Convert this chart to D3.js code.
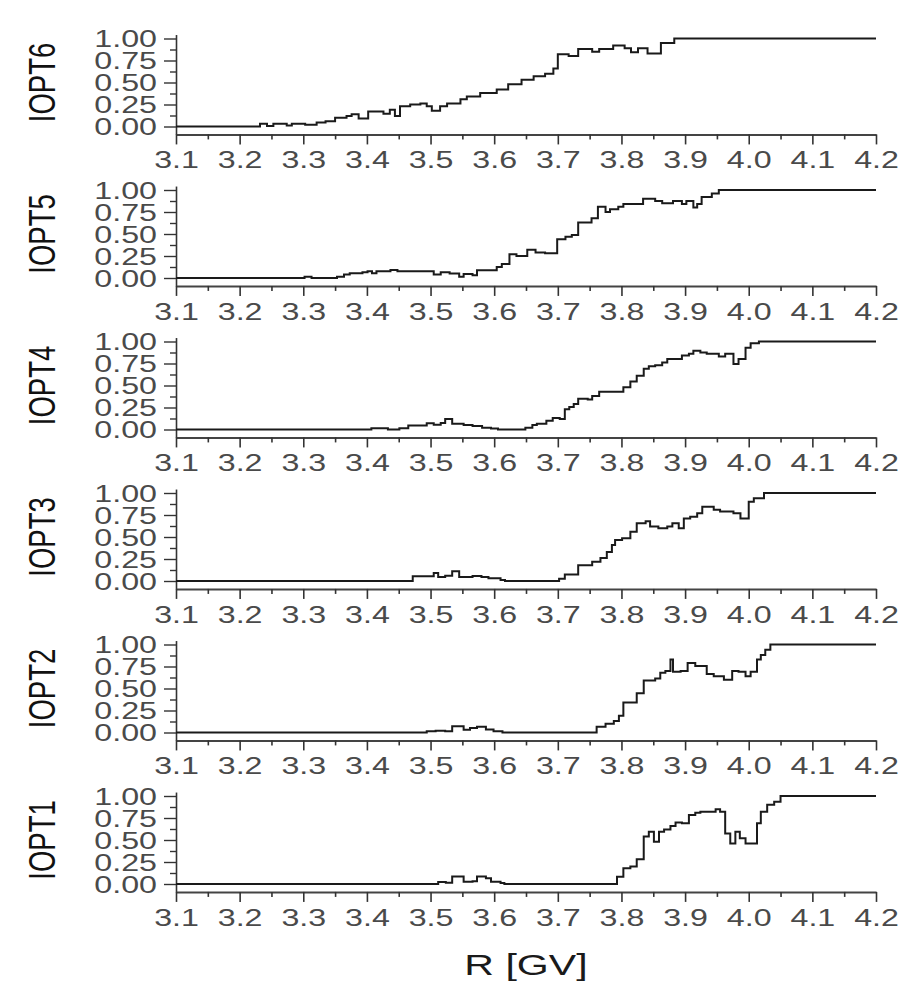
<!DOCTYPE html>
<html>
<head>
<meta charset="utf-8">
<script src="https://cdn.jsdelivr.net/npm/d3@7"></script>
<style>
  html, body { margin: 0; background: #fff; }
  svg { display: block; font-family: "Liberation Sans", Arial, sans-serif; }
</style>
</head>
<body>
<svg id="chart" width="901" height="981"></svg>
<script>
// Panel order, top to bottom
const panelNames = ["IOPT6", "IOPT5", "IOPT4", "IOPT3", "IOPT2", "IOPT1"];

// Axis tick values
const xTicks = [3.1, 3.2, 3.3, 3.4, 3.5, 3.6, 3.7, 3.8, 3.9, 4.0, 4.1, 4.2];
const xMinorTicks = [3.15, 3.25, 3.35, 3.45, 3.55, 3.65, 3.75, 3.85, 3.95, 4.05, 4.15];
const yTicks = [0, 0.25, 0.5, 0.75, 1];
const yMinorTicks = [0.125, 0.375, 0.625, 0.875];

// Step series: rigidity bin edges R [GV] and the fraction from each edge on
const iopt6R = [3.1, 3.232, 3.243, 3.253, 3.274, 3.282, 3.303, 3.321, 3.335, 3.350, 3.368, 3.376, 3.387, 3.402, 3.426, 3.436, 3.444, 3.452, 3.468, 3.484, 3.494, 3.502, 3.515, 3.526, 3.547, 3.557, 3.578, 3.604, 3.622, 3.643, 3.662, 3.680, 3.693, 3.700, 3.717, 3.732, 3.754, 3.765, 3.787, 3.805, 3.815, 3.826, 3.841, 3.862, 3.883, 4.2];
const iopt6F = [0, 0.03, 0.005, 0.03, 0.01, 0.03, 0.02, 0.045, 0.06, 0.10, 0.12, 0.14, 0.09, 0.17, 0.145, 0.19, 0.12, 0.23, 0.25, 0.26, 0.23, 0.18, 0.23, 0.26, 0.31, 0.34, 0.38, 0.42, 0.48, 0.53, 0.57, 0.60, 0.66, 0.82, 0.80, 0.88, 0.85, 0.88, 0.92, 0.89, 0.845, 0.89, 0.83, 0.95, 1.0, 1.0];

const iopt5R = [3.1, 3.302, 3.313, 3.353, 3.364, 3.373, 3.393, 3.401, 3.408, 3.415, 3.437, 3.448, 3.505, 3.516, 3.530, 3.545, 3.552, 3.566, 3.573, 3.604, 3.612, 3.624, 3.635, 3.652, 3.665, 3.680, 3.699, 3.712, 3.722, 3.732, 3.753, 3.763, 3.775, 3.782, 3.795, 3.803, 3.834, 3.853, 3.864, 3.881, 3.895, 3.902, 3.913, 3.919, 3.926, 3.942, 3.953, 4.2];
const iopt5F = [0, 0.015, 0, 0.015, 0.04, 0.055, 0.065, 0.076, 0.055, 0.076, 0.09, 0.076, 0.04, 0.065, 0.05, 0.015, 0.045, 0.03, 0.087, 0.125, 0.16, 0.27, 0.25, 0.32, 0.29, 0.28, 0.44, 0.47, 0.49, 0.63, 0.68, 0.81, 0.75, 0.78, 0.81, 0.84, 0.90, 0.875, 0.85, 0.875, 0.84, 0.875, 0.80, 0.84, 0.92, 0.96, 1.0, 1.0];

const iopt4R = [3.1, 3.407, 3.433, 3.451, 3.465, 3.494, 3.505, 3.516, 3.523, 3.534, 3.552, 3.566, 3.581, 3.595, 3.606, 3.649, 3.660, 3.667, 3.682, 3.692, 3.703, 3.711, 3.718, 3.725, 3.732, 3.747, 3.754, 3.765, 3.803, 3.814, 3.824, 3.835, 3.843, 3.853, 3.864, 3.872, 3.895, 3.906, 3.913, 3.924, 3.934, 3.953, 3.963, 3.976, 3.984, 3.995, 4.003, 4.016, 4.2];
const iopt4F = [0, 0.015, 0, 0.015, 0.045, 0.07, 0.055, 0.075, 0.12, 0.065, 0.05, 0.04, 0.02, 0.01, 0, 0.02, 0.05, 0.065, 0.10, 0.13, 0.12, 0.23, 0.255, 0.29, 0.35, 0.34, 0.38, 0.43, 0.48, 0.545, 0.61, 0.69, 0.72, 0.73, 0.76, 0.80, 0.84, 0.86, 0.895, 0.875, 0.86, 0.83, 0.86, 0.745, 0.80, 0.93, 0.98, 1.0, 1.0];

const iopt3R = [3.1, 3.472, 3.505, 3.512, 3.523, 3.534, 3.545, 3.566, 3.580, 3.591, 3.610, 3.617, 3.702, 3.711, 3.732, 3.754, 3.767, 3.777, 3.785, 3.790, 3.801, 3.814, 3.824, 3.838, 3.845, 3.858, 3.872, 3.880, 3.890, 3.898, 3.908, 3.919, 3.927, 3.945, 3.955, 3.976, 3.987, 4.000, 4.008, 4.024, 4.2];
const iopt3F = [0, 0.055, 0.09, 0.045, 0.06, 0.11, 0.045, 0.057, 0.045, 0.03, 0.01, 0, 0.026, 0.075, 0.18, 0.22, 0.26, 0.33, 0.41, 0.465, 0.485, 0.56, 0.655, 0.68, 0.62, 0.60, 0.62, 0.655, 0.60, 0.71, 0.73, 0.77, 0.845, 0.81, 0.79, 0.77, 0.71, 0.90, 0.94, 1.0, 1.0];

const iopt2R = [3.1, 3.494, 3.508, 3.523, 3.534, 3.552, 3.562, 3.573, 3.587, 3.599, 3.613, 3.761, 3.775, 3.788, 3.796, 3.803, 3.824, 3.835, 3.853, 3.861, 3.869, 3.877, 3.881, 3.893, 3.904, 3.916, 3.934, 3.945, 3.961, 3.974, 3.984, 3.995, 4.003, 4.013, 4.019, 4.026, 4.034, 4.2];
const iopt2F = [0, 0.015, 0.02, 0.015, 0.07, 0.03, 0.05, 0.065, 0.035, 0.015, 0, 0.066, 0.10, 0.13, 0.19, 0.34, 0.445, 0.59, 0.615, 0.68, 0.70, 0.83, 0.69, 0.70, 0.79, 0.755, 0.665, 0.64, 0.60, 0.70, 0.69, 0.64, 0.69, 0.83, 0.88, 0.94, 1.0, 1.0];

const iopt1R = [3.1, 3.512, 3.524, 3.534, 3.552, 3.566, 3.573, 3.587, 3.595, 3.610, 3.616, 3.793, 3.803, 3.814, 3.824, 3.835, 3.843, 3.851, 3.859, 3.867, 3.877, 3.885, 3.895, 3.906, 3.916, 3.924, 3.948, 3.955, 3.963, 3.971, 3.979, 3.986, 3.995, 4.013, 4.019, 4.029, 4.040, 4.050, 4.2];
const iopt1F = [0, 0.023, 0.015, 0.085, 0.025, 0.03, 0.085, 0.065, 0.025, 0.01, 0, 0.083, 0.18, 0.20, 0.28, 0.54, 0.595, 0.48, 0.595, 0.62, 0.66, 0.70, 0.69, 0.785, 0.81, 0.82, 0.85, 0.82, 0.575, 0.46, 0.595, 0.52, 0.46, 0.69, 0.82, 0.90, 0.935, 1.0, 1.0];

const seriesByName = {
  IOPT6: [iopt6R, iopt6F],
  IOPT5: [iopt5R, iopt5F],
  IOPT4: [iopt4R, iopt4F],
  IOPT3: [iopt3R, iopt3F],
  IOPT2: [iopt2R, iopt2F],
  IOPT1: [iopt1R, iopt1F]
};

// Layout
const SX = 1.37;              // horizontal text stretch
const plotLeft = 176, plotRight = 876;
const firstTop = 38.5, panelPitch = 151.5, unitHeight = 88;
const tickFont = 23.5, nameFont = 27.5, titleFont = 30;

const svg = d3.select("#chart");

const x = d3.scaleLinear().domain([3.1, 4.2]).range([plotLeft, plotRight]);

panelNames.forEach((name, i) => {
  const top = firstTop + i * panelPitch;
  const y = d3.scaleLinear().domain([0, 1]).range([top + unitHeight, top]);
  const yLow = -0.09, yHigh = 1.045;
  const axisY = y(yLow);

  const g = svg.append("g").attr("class", "panel");

  // y axis: major ticks with labels
  const yAxisScale = d3.scaleLinear().domain([yLow, yHigh]).range([y(yLow), y(yHigh)]);
  const yAxis = g.append("g")
    .attr("transform", `translate(${plotLeft},0)`)
    .call(d3.axisLeft(yAxisScale).tickValues(yTicks).tickSize(12).tickSizeOuter(0)
      .tickFormat(d3.format(".2f")));
  yAxis.select(".domain").attr("stroke", "#333").attr("stroke-width", 1.6);
  yAxis.selectAll(".tick line").attr("stroke", "#333").attr("stroke-width", 1.4);
  yAxis.selectAll(".tick text")
    .attr("x", -19 / SX)
    .attr("dy", "0.36em")
    .attr("transform", `scale(${SX},1)`)
    .attr("fill", "#4a4a4a")
    .style("font-size", tickFont + "px")
    .style("font-family", '"Liberation Sans", Arial, sans-serif');

  // y axis minor ticks
  g.append("g")
    .attr("transform", `translate(${plotLeft},0)`)
    .call(d3.axisLeft(yAxisScale).tickValues(yMinorTicks).tickSize(6).tickSizeOuter(0).tickFormat(""))
    .call(s => s.select(".domain").remove())
    .selectAll(".tick line").attr("stroke", "#333").attr("stroke-width", 1.4);

  // x axis: major ticks with labels
  const xAxis = g.append("g")
    .attr("transform", `translate(0,${axisY})`)
    .call(d3.axisBottom(x).tickValues(xTicks).tickSize(10).tickPadding(7).tickSizeOuter(0)
      .tickFormat(d3.format(".1f")));
  xAxis.select(".domain").attr("stroke", "#444").attr("stroke-width", 2);
  xAxis.selectAll(".tick line").attr("stroke", "#333").attr("stroke-width", 1.6);
  xAxis.selectAll(".tick text")
    .attr("transform", `scale(${SX},1)`)
    .attr("fill", "#4a4a4a")
    .style("font-size", tickFont + "px")
    .style("font-family", '"Liberation Sans", Arial, sans-serif');

  // x axis minor ticks
  g.append("g")
    .attr("transform", `translate(0,${axisY})`)
    .call(d3.axisBottom(x).tickValues(xMinorTicks).tickSize(5).tickSizeOuter(0).tickFormat(""))
    .call(s => s.select(".domain").remove())
    .selectAll(".tick line").attr("stroke", "#333").attr("stroke-width", 1.6);

  // Panel name (rotated)
  g.append("text")
    .attr("transform", `translate(41,${y(0.5)}) scale(${SX},1) rotate(-90)`)
    .attr("text-anchor", "middle")
    .attr("dy", "0.36em")
    .attr("fill", "#111")
    .style("font-size", nameFont + "px")
    .text(name);

  // Step curve
  const [r, f] = seriesByName[name];
  const points = d3.zip(r, f);
  const line = d3.line()
    .x(d => x(d[0]))
    .y(d => y(d[1]))
    .curve(d3.curveStepAfter);
  g.append("path")
    .datum(points)
    .attr("fill", "none")
    .attr("stroke", "#1a1a1a")
    .attr("stroke-width", 2)
    .attr("d", line);
});

// Shared x-axis title
svg.append("text")
  .attr("transform", `translate(${(plotLeft + plotRight) / 2},975) scale(${SX},1)`)
  .attr("text-anchor", "middle")
  .attr("fill", "#1a1a1a")
  .style("font-size", titleFont + "px")
  .text("R [GV]");
</script>
</body>
</html>
